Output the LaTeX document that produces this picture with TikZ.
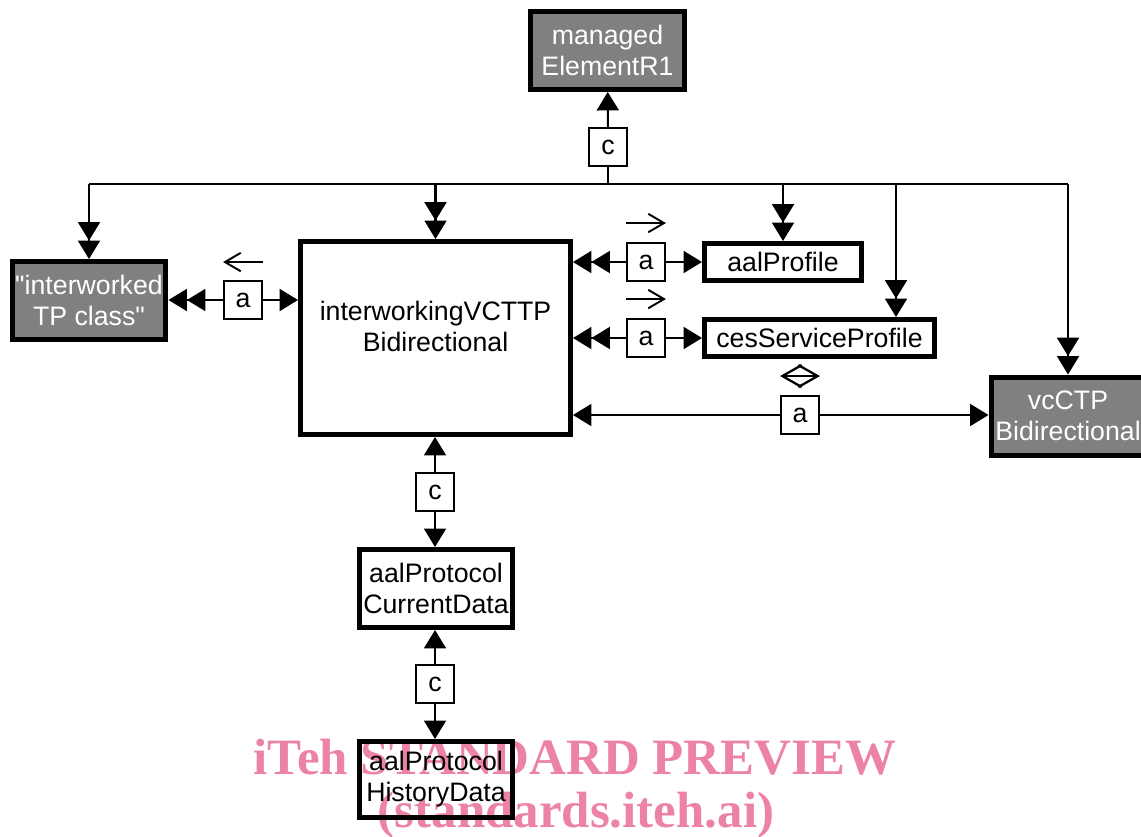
\documentclass[tikz,border=0pt]{standalone}
\usepackage{fontspec}
\setmainfont{Liberation Sans}
\newfontfamily\wmfont{Liberation Serif}
\usepackage{tikz}
\usetikzlibrary{arrows.meta}
\definecolor{boxgray}{RGB}{128,128,128}
\definecolor{wmpink}{RGB}{236,130,166}
\tikzset{
  objG/.style ={draw=black, fill=boxgray, text=white, line width=2.85pt, align=center,
                minimum width=3.08cm, minimum height=1.56cm, inner sep=0pt},
  objW/.style ={draw=black, line width=2.85pt, align=center, inner sep=0pt},
  rel/.style  ={draw=black, line width=1.1pt, minimum size=0.76cm, inner sep=0pt},
  link/.style ={line width=1.15pt},
  headS/.style={link, -{Triangle[length=10.5pt,width=12.5pt]}},
  headD/.style={link, -{Triangle[length=10.5pt,width=12.5pt,sep=0pt] Triangle[length=10.5pt,width=12.5pt]}},
  dirL/.style ={line width=1.1pt, {Straight Barb[length=9pt,width=10.5pt]}-},
  dirR/.style ={line width=1.1pt, -{Straight Barb[length=9pt,width=10.5pt]}},
  dirB/.style ={line width=1.3pt, {Straight Barb[length=11pt,width=12.5pt]}-{Straight Barb[length=11pt,width=12.5pt]}},
  wm/.style   ={text=wmpink, inner sep=0pt, font=\wmfont\bfseries\fontsize{29pt}{30pt}\selectfont},
}

\begin{document}
\begin{tikzpicture}[x=0.02cm, y=-0.02cm, font=\fontsize{15.2pt}{17.6pt}\selectfont]
  \useasboundingbox (0,0) rectangle (1141,836);
  \node[wm, anchor=base] (wm1) at (575,774) {iTeh STANDARD PREVIEW};
  \node[wm, anchor=base] (wm2) at (576,827) {(standards.iteh.ai)};
  \node[objG] (mgr)  at (607.5,50.5) {managed\\ElementR1};
  \node[objG] (iwTP) at (89,300.5)   {\textquotedbl interworked\\TP class\textquotedbl};
  \node[objW, minimum width=5.4cm, minimum height=3.86cm] (ivc) at (435.5,338) {};
  \node[align=center, inner sep=0pt] (ivcT) at (435.5,326) {interworkingVCTTP\\Bidirectional};
  \node[objW, minimum width=3.14cm, minimum height=0.74cm] (aalP) at (783,262)   {aalProfile};
  \node[objW, minimum width=4.6cm, minimum height=0.74cm]  (ces)  at (819.5,338) {cesServiceProfile};
  \node[objG] (vcc)  at (1068,416) {vcCTP\\Bidirectional};
  \node[objW, minimum width=3.08cm, minimum height=1.56cm] (cur)  at (436,588.5) {aalProtocol\\CurrentData};
  \node[objW, minimum width=3.08cm, minimum height=1.52cm] (hist) at (436,779.5) {aalProtocol\\HistoryData};
  \node[rel] (cM) at (608,147) {c};
  \node[rel] (aL) at (243,300) {a};
  \node[rel] (aP) at (646,262) {a};
  \node[rel] (aS) at (646,338) {a};
  \node[rel] (aV) at (800,415) {a};
  \node[rel] (cC) at (435,492) {c};
  \node[rel] (cH) at (435,684) {c};
  \coordinate (bus) at (608,184);
  \coordinate (cesIn) at (896,184);
  \draw[link] (iwTP.north |- bus) -- (vcc.north |- bus);
  \draw[link] (bus) -- (cM);
  \draw[headS] (cM) -- (mgr);
  \foreach \t in {iwTP,ivc,aalP,vcc}{\draw[headD] (\t.north |- bus) -- (\t.north);}
  \draw[headD] (cesIn) -- (cesIn |- ces.north);
  \draw[headD] (aL) -- (aL -| iwTP.east);
  \draw[headS] (aL) -- (aL -| ivc.west);
  \foreach \r/\t in {aP/aalP,aS/ces}{
    \draw[headD] (\r) -- (\r -| ivc.east);
    \draw[headS] (\r) -- (\t);
  }
  \draw[headS] (aV) -- (aV -| ivc.east);
  \draw[headS] (aV) -- (aV -| vcc.west);
  \draw[headS] (cC) -- (cC |- ivc.south);
  \draw[headS] (cC) -- (cC |- cur.north);
  \draw[headS] (cH) -- (cH |- cur.south);
  \draw[headS] (cH) -- (cH |- hist.north);
  \draw[dirL] ([yshift=0.36cm]aL.north west) -- ([yshift=0.36cm]aL.north east);
  \draw[dirR] ([yshift=0.38cm]aP.north west) -- ([yshift=0.38cm]aP.north east);
  \draw[dirR] ([yshift=0.38cm]aS.north west) -- ([yshift=0.38cm]aS.north east);
  \draw[dirB] ([yshift=0.38cm]aV.north west) -- ([yshift=0.38cm]aV.north east);
\end{tikzpicture}
\end{document}
